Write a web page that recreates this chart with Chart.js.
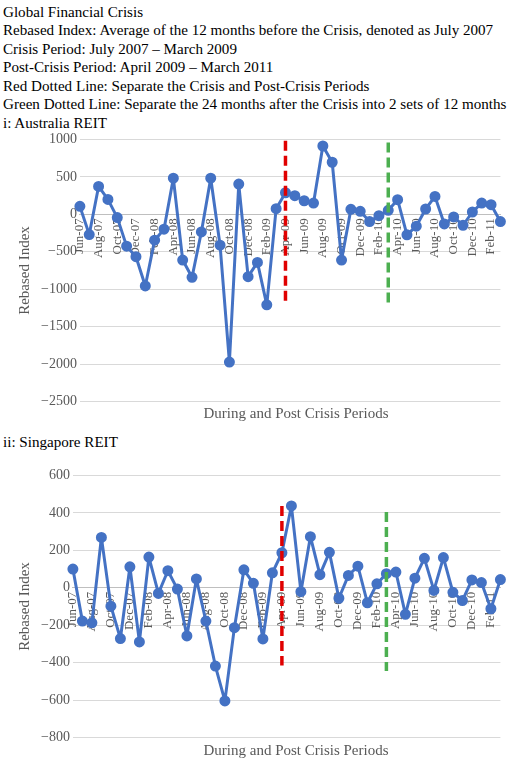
<!DOCTYPE html>
<html><head><meta charset="utf-8">
<script src="https://cdn.jsdelivr.net/npm/chart.js@4"></script>
<style>
body{margin:0;width:520px;height:762px;background:#fff;font-family:"Liberation Serif",serif;position:relative;overflow:hidden}
.t{position:absolute;left:3px;font-size:15.1px;color:#000;line-height:18px;white-space:nowrap}
.xt{position:absolute;font-size:15px;color:#595959;width:520px;text-align:center;left:36px}
.c{position:absolute;left:0;width:520px}
</style></head><body>
<div class="t" style="top:3px">Global Financial Crisis</div>
<div class="t" style="top:21px">Rebased Index: Average of the 12 months before the Crisis, denoted as July 2007</div>
<div class="t" style="top:40px">Crisis Period: July 2007 – March 2009</div>
<div class="t" style="top:58px">Post-Crisis Period: April 2009 – March 2011</div>
<div class="t" style="top:77px">Red Dotted Line: Separate the Crisis and Post-Crisis Periods</div>
<div class="t" style="top:95px">Green Dotted Line: Separate the 24 months after the Crisis into 2 sets of 12 months</div>
<div class="t" style="top:114px">i: Australia REIT</div>
<div class="c" style="top:128px;height:285px"><canvas id="c1"></canvas></div>
<div class="xt" style="top:405px">During and Post Crisis Periods</div>
<div class="t" style="top:433px">ii: Singapore REIT</div>
<div class="c" style="top:464px;height:285px"><canvas id="c2"></canvas></div>
<div class="xt" style="top:742px">During and Post Crisis Periods</div>
<script>
const months = ["Jun-07","Jul-07","Aug-07","Sep-07","Oct-07","Nov-07","Dec-07","Jan-08","Feb-08","Mar-08","Apr-08","May-08","Jun-08","Jul-08","Aug-08","Sep-08","Oct-08","Nov-08","Dec-08","Jan-09","Feb-09","Mar-09","Apr-09","May-09","Jun-09","Jul-09","Aug-09","Sep-09","Oct-09","Nov-09","Dec-09","Jan-10","Feb-10","Mar-10","Apr-10","May-10","Jun-10","Jul-10","Aug-10","Sep-10","Oct-10","Nov-10","Dec-10","Jan-11","Feb-11","Mar-11"];
const australia = [106,-270,372,199,-44,-425,-566,-956,-345,-199,482,-611,-841,-235,482,-412,-1973,403,-832,-642,-1208,75,288,248,181,150,912,695,-611,66,40,-97,-18,53,195,-274,-159,71,239,-128,-35,-146,31,150,128,-97];
const singapore = [100,-178,-187,269,-98,-271,112,-289,164,-30,91,-7,-257,47,-178,-418,-604,-213,96,24,-273,80,187,437,-21,273,70,189,-56,66,115,-80,21,75,84,-142,51,157,-14,161,-24,-68,42,28,-112,44];
const ausRed = [982,-1164], ausGreen = [960,-1186];
const sgRed = [436,-415], sgGreen = [404,-444];
const redAt = "Apr-09", greenAt = "Mar-10";

function make(id, data, red, green, min, max, step){
  new Chart(document.getElementById(id), {
    type:'line',
    data:{labels:months, datasets:[
      {data:data, borderColor:'#4472C4', backgroundColor:'#4472C4', borderWidth:3, borderJoinStyle:'round', pointRadius:4, pointHoverRadius:4, tension:0, order:2},
      {data:[{x:redAt,y:red[0]},{x:redAt,y:red[1]}], borderColor:'#E00000', borderWidth:3.5, borderDash:[10,5], pointRadius:0, order:1},
      {data:[{x:greenAt,y:green[0]},{x:greenAt,y:green[1]}], borderColor:'#4CAF50', borderWidth:3.5, borderDash:[10,5], pointRadius:0, order:1}
    ]},
    options:{
      responsive:true, maintainAspectRatio:false, animation:false,
      layout:{padding:{top:8,right:5,bottom:8,left:12}},
      plugins:{legend:{display:false},tooltip:{enabled:false}},
      scales:{
        x:{position:{y:0}, grid:{display:false, drawTicks:false}, border:{color:'#bfbfbf'},
           ticks:{autoSkip:false, maxRotation:90, minRotation:90, color:'#595959', padding:4, font:{family:'Liberation Serif',size:13},
             callback:(v,i)=> i%2===0 ? months[i] : ''}},
        y:{min:min, max:max, ticks:{stepSize:step, color:'#595959', font:{family:'Liberation Serif',size:14},
             callback:v=> String(v).replace('-','\u2212')},
           grid:{color:'#d9d9d9', drawTicks:false}, border:{display:false},
           title:{display:true, text:'Rebased Index', color:'#595959', font:{family:'Liberation Serif',size:15}}}
      }
    }
  });
}
make('c1', australia, ausRed, ausGreen, -2500, 1000, 500);
make('c2', singapore, sgRed, sgGreen, -800, 600, 200);
</script>
</body></html>
